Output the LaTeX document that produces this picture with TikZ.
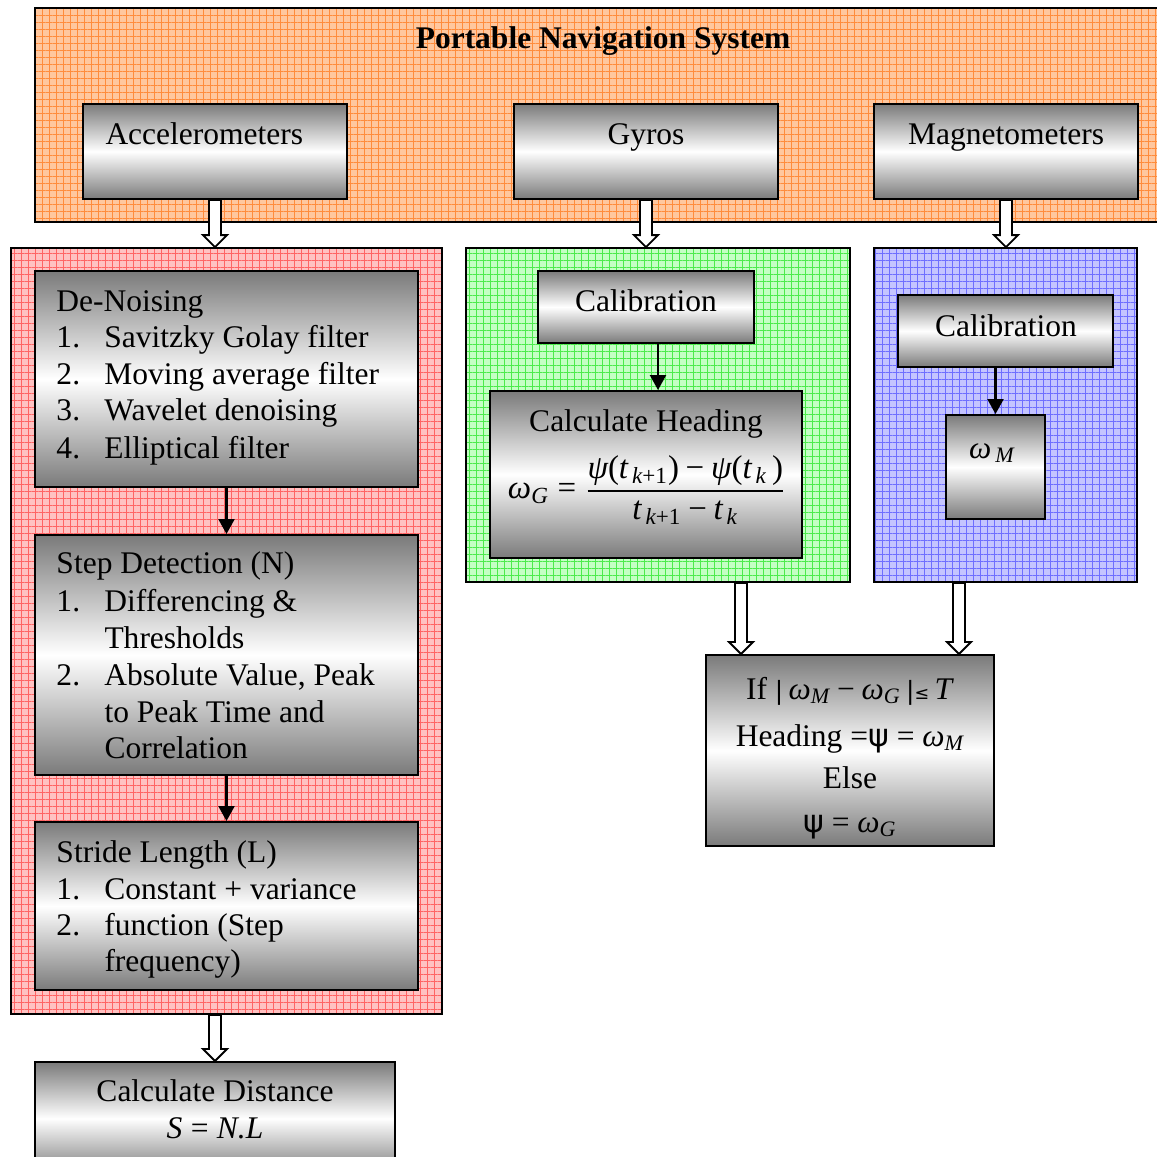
\documentclass[tikz,border=0pt]{standalone}
\usepackage{amsmath}
\usepackage{fontspec}
\setmainfont{Liberation Serif}
\newfontfamily\symfont{DejaVu Sans}
\usetikzlibrary{fit,calc,patterns.meta,arrows.meta}

\definecolor{orgfill}{HTML}{FFC79E}\definecolor{orgline}{HTML}{FF8C3C}
\definecolor{redfill}{HTML}{FFC2C2}\definecolor{redline}{HTML}{FF6464}
\definecolor{grnfill}{HTML}{C4FFC4}\definecolor{grnline}{HTML}{4CEB4C}
\definecolor{blufill}{HTML}{C4C4FF}\definecolor{bluline}{HTML}{6E6EFF}

% italic and upright letters in formulas, in the text font
\newcommand\tm[1]{\text{\itshape #1}}
\newcommand\tu[1]{\text{#1}}
% numbered list line: number, then item text at a fixed indent
\newcommand\enumline[2]{\makebox[19.2pt][l]{#1}#2}

% hollow block arrow from #1 straight down to #2
\newcommand\blockarrow[2]{%
  \draw[hollow] let \p1=(#1), \p2=(#2) in
    ({\x1-2.4pt},\y1) -- ({\x1+2.4pt},\y1) -- ({\x1+2.4pt},{\y2+4.8pt})
    -- ({\x1+4.8pt},{\y2+4.8pt}) -- (\x1,\y2) -- ({\x1-4.8pt},{\y2+4.8pt})
    -- ({\x1-2.4pt},{\y2+4.8pt}) -- cycle;}

\tikzset{
  panel/.style 2 args={draw=black, line width=0.7pt, inner sep=0pt,
    preaction={fill=#1},
    pattern={Hatch[angle=0,distance=2.8pt,line width=0.3pt]}, pattern color=#2},
  gbox/.style={draw=black, line width=0.8pt, inner sep=0pt,
    top color=black!52, bottom color=black!52, middle color=white},
  txt/.style={inner sep=0pt, font=\fontsize{12.6}{14.6}\selectfont},
  hollow/.style={draw=black, line width=0.75pt, fill=white},
  flow/.style={draw=black, line width=0.9pt, -{Triangle[length=6pt,width=6.4pt]}},
}

\begin{document}
\begin{tikzpicture}[x=0.4pt,y=-0.4pt]
\useasboundingbox (0,0) rectangle (1157,1156);
\fill[white] (0,0) rectangle (1157,1156);
\clip (0,0) rectangle (1157,1156);

% coloured panels
\node[panel={orgfill}{orgline}, fit={(35,8)(1162,222)}] (nav) {};
\node[panel={redfill}{redline}, fit={(11,248)(442,1014)}] (red) {};
\node[panel={grnfill}{grnline}, fit={(466,248)(850,582)}] (green) {};
\node[panel={blufill}{bluline}, fit={(874,248)(1137,582)}] (blue) {};

% sensor boxes
\node[gbox, fit={(83,104)(347,199)}] (acc) {};
\node[gbox, fit={(514,104)(778,199)}] (gyro) {};
\node[gbox, fit={(874,104)(1138,199)}] (mag) {};

% accelerometer chain
\node[gbox, fit={(35,271)(418,487)}] (dn) {};
\node[gbox, fit={(35,535)(418,775)}] (sd) {};
\node[gbox, fit={(35,822)(418,990)}] (sl) {};
\node[gbox, fit={(35,1062)(395,1175)}] (dist) {};

% gyro chain
\node[gbox, fit={(538,271)(754,343)}] (calg) {};
\node[gbox, fit={(490,391)(802,558)}] (ch) {};

% magnetometer chain
\node[gbox, fit={(898,295)(1113,367)}] (calb) {};
\node[gbox, fit={(946,415)(1045,519)}] (wm) {};

% heading decision
\node[gbox, fit={(706,655)(994,846)}] (ifb) {};

% texts
\node[txt, font=\fontsize{12.6}{14.6}\selectfont\bfseries, anchor=base] (title) at (603,48) {Portable Navigation System};
\node[txt, anchor=base west] (acct) at (105,144) {Accelerometers};
\node[txt, anchor=base] (gyrot) at (646,144) {Gyros};
\node[txt, anchor=base] (magt) at (1006,144) {Magnetometers};

\node[txt, anchor=base west] (dn0) at (56,311) {De-Noising};
\node[txt, anchor=base west] (dn1) at (56,347) {\enumline{1.}{Savitzky Golay filter}};
\node[txt, anchor=base west] (dn2) at (56,384) {\enumline{2.}{Moving average filter}};
\node[txt, anchor=base west] (dn3) at (56,420) {\enumline{3.}{Wavelet denoising}};
\node[txt, anchor=base west] (dn4) at (56,458) {\enumline{4.}{Elliptical filter}};

\node[txt, anchor=base west] (sd0) at (56,573) {Step Detection (N)};
\node[txt, anchor=base west] (sd1) at (56,611) {\enumline{1.}{Differencing \&}};
\node[txt, anchor=base west] (sd2) at (104,648) {Thresholds};
\node[txt, anchor=base west] (sd3) at (56,685) {\enumline{2.}{Absolute Value, Peak}};
\node[txt, anchor=base west] (sd4) at (104,722) {to Peak Time and};
\node[txt, anchor=base west] (sd5) at (104,758) {Correlation};

\node[txt, anchor=base west] (sl0) at (56,862) {Stride Length (L)};
\node[txt, anchor=base west] (sl1) at (56,899) {\enumline{1.}{Constant + variance}};
\node[txt, anchor=base west] (sl2) at (56,935) {\enumline{2.}{function (Step}};
\node[txt, anchor=base west] (sl3) at (104,971) {frequency)};

\node[txt, anchor=base] (dist0) at (215,1101) {Calculate Distance};
\node[txt, anchor=base] (dist1) at (215,1138) {$\tm{S} \mathrel{\tu{=}} \tm{N.L}$};

\node[txt, anchor=base] (calgt) at (646,311) {Calibration};
\node[txt, anchor=base] (cht) at (646,431) {Calculate Heading};
\node[txt, font=\fontsize{13.2}{15}\selectfont] (chf) at (647,490) {$\tm{ω}_{\tm{G}} \mathrel{\tu{=}} \dfrac{\tm{ψ}\tu{(}\tm{t}_{\,\tm{k}\tu{+1}}\tu{)} \mathbin{\tu{−}} \tm{ψ}\tu{(}\tm{t}_{\,\tm{k}}\,\tu{)}}{\tm{t}_{\,\tm{k}\tu{+1}} \mathbin{\tu{−}} \tm{t}_{\,\tm{k}}}$};

\node[txt, anchor=base] (calbt) at (1006,336) {Calibration};
\node[txt, anchor=base] (wmt) at (992,458) {$\tm{ω}_{\,\tm{M}}$};

\node[txt, anchor=base] (if0) at (850,699) {If {\symfont\fontsize{10}{10}\selectfont|}\,$\tm{ω}_{\tm{M}} \mathbin{\tu{−}} \tm{ω}_{\tm{G}}$\,{\symfont\fontsize{10}{10}\selectfont|{\fontsize{7}{7}\selectfont≤}}\,\textit{T}};
\node[txt, anchor=base] (if1) at (850,746) {Heading ={\symfont ψ} = $\tm{ω}_{\tm{M}}$};
\node[txt, anchor=base] (if2) at (850,788) {Else};
\node[txt, anchor=base] (if3) at (850,832) {{\symfont ψ} = $\tm{ω}_{\tm{G}}$};

% flow arrows inside the panels
\draw[flow] (dn.south) -- (sd.north);
\draw[flow] (sd.south) -- (sl.north);
\coordinate (ga) at ($(calg.south)+(12,0)$);
\draw[flow] (ga) -- (ga |- ch.north);
\draw[flow] (wm.north |- calb.south) -- (wm.north);

% block arrows between stages
\blockarrow{acc.south}{acc.south |- red.north}
\blockarrow{gyro.south}{gyro.south |- green.north}
\blockarrow{mag.south}{mag.south |- blue.north}
\blockarrow{dist.north |- red.south}{dist.north}
\coordinate (gi) at ($(ifb.north west)+(36,0)$);
\coordinate (bi) at ($(ifb.north east)+(-36,0)$);
\blockarrow{gi |- green.south}{gi}
\blockarrow{bi |- blue.south}{bi}
\end{tikzpicture}
\end{document}
